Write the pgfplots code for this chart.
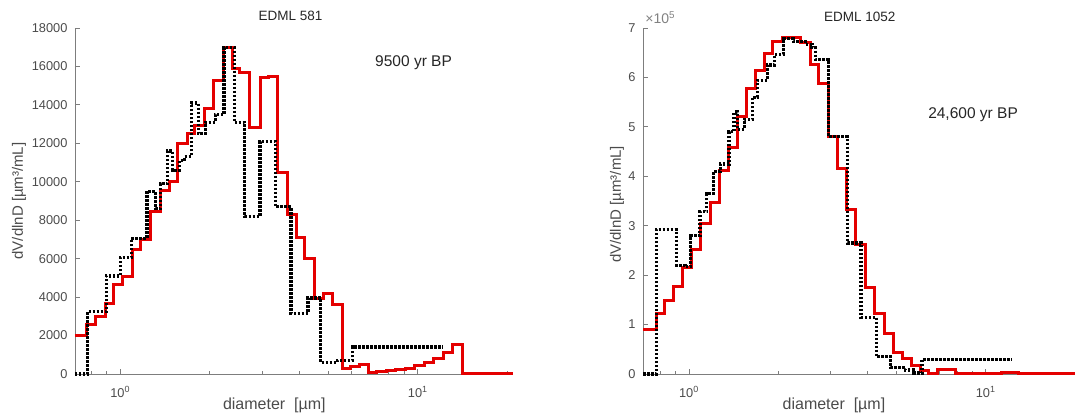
\documentclass[border=0pt]{standalone}
\usepackage{pgfplots}
\pgfplotsset{compat=1.18}
\usepackage{fontspec}
\setmainfont{Liberation Sans}
\definecolor{axgray}{RGB}{125,125,125}
\definecolor{lblgray}{RGB}{75,75,75}
\definecolor{mred}{RGB}{228,0,0}
\pgfkeys{/pgf/number format/.cd, assume math mode=true, set thousands separator={}}
\begin{document}
\begin{tikzpicture}
\useasboundingbox (0pt,0pt) rectangle (1075pt,417pt);
% ---------------- left panel ----------------
\begin{axis}[at={(75pt,43pt)}, anchor=south west, width=438pt, height=346pt, scale only axis,
  xmode=log,
  axis x line*=bottom, axis y line*=left,
  axis line style={draw=axgray, line width=0.9pt},
  tick style={draw=axgray, line width=0.9pt},
  tick align=inside, major tick length=5pt, minor tick length=3pt,
  xtick={1,10}, xticklabels={10\textsuperscript{0},10\textsuperscript{1}},
  minor xtick={0.8,0.9,2,3,4,5,6,7,8,9,20},
  tick label style={font=\fontsize{12.8}{14}\selectfont, text=lblgray},
  xticklabel style={yshift=-9pt},
  yticklabel style={xshift=-4pt},
  clip=false,
  xmin=0.705, xmax=20.9, ymin=0, ymax=18000,
  ytick={0,2000,...,18000}, scaled y ticks=false,
  xlabel={diameter\ \ [µm]},
  xlabel style={at={(axis description cs:0.455,-0.090)}, anchor=center, font=\fontsize{16}{18}\selectfont, text=lblgray},
  ylabel={dV/dlnD [µm³/mL]},
  ylabel style={at={(axis description cs:-0.128,0.50)}, anchor=center, font=\fontsize{15}{17}\selectfont, text=lblgray},
]
\addplot[draw=mred, line width=3pt, const plot, mark=none] coordinates {
(0.705,2000)(0.773,2550)(0.826,3000)(0.895,3650)(0.948,4650)(1.016,5050)(1.100,6500)
(1.172,7000)(1.263,8450)(1.367,9550)(1.461,10000)(1.561,12000)(1.682,12500)(1.783,12950)
(1.920,13800)(2.063,15250)(2.216,17000)(2.387,15900)(2.518,15700)(2.726,12800)(2.951,15400)
(3.154,15500)(3.370,10500)(3.649,8300)(3.899,7100)(4.168,6000)(4.487,3950)(4.823,4200)
(5.179,3600)(5.60,300)(5.963,400)(6.370,500)(6.807,100)(7.273,150)(7.877,200)(8.416,250)
(9.114,300)(9.739,450)(10.55,600)(11.27,800)(12.20,1100)(13.04,1550)(14.15,0)(20.9,0)
};
\addplot[draw=black, line width=3.2pt, const plot, mark=none, dash pattern=on 2.5pt off 1.5pt] coordinates {
(0.705,0)(0.779,3250)(0.899,5100)(1.0,6050)(1.091,7050)(1.230,9500)(1.314,8600)(1.367,9900)
(1.442,11600)(1.501,10600)(1.582,11100)(1.646,11300)(1.736,14100)(1.831,12500)(1.931,13100)
(2.090,13500)(2.234,17000)(2.419,13100)(2.620,8200)(2.951,12100)(3.325,8700)(3.748,3150)
(4.279,3950)(4.720,600)(5.362,700)(6.042,1400)(12.20,1400)
};
\node[font=\fontsize{15.5}{18}\selectfont, text=black!85] at (rel axis cs:0.773,0.899) {9500 yr BP};
\node[font=\fontsize{13.5}{15}\selectfont, text=black!85] at (rel axis cs:0.492,1.035) {EDML 581};
\end{axis}
% ---------------- right panel ----------------
\begin{axis}[at={(643pt,43pt)}, anchor=south west, width=432pt, height=346pt, scale only axis,
  xmode=log,
  axis x line*=bottom, axis y line*=left,
  axis line style={draw=axgray, line width=0.9pt},
  tick style={draw=axgray, line width=0.9pt},
  tick align=inside, major tick length=5pt, minor tick length=3pt,
  xtick={1,10}, xticklabels={10\textsuperscript{0},10\textsuperscript{1}},
  minor xtick={0.8,0.9,2,3,4,5,6,7,8,9,20},
  tick label style={font=\fontsize{12.8}{14}\selectfont, text=lblgray},
  xticklabel style={yshift=-9pt},
  yticklabel style={xshift=-4pt},
  clip=false,
  xmin=0.70, xmax=20, ymin=0, ymax=700000,
  ytick={0,100000,...,700000},
  yticklabels={0,1,2,3,4,5,6,7},
  scaled y ticks=false,
  xlabel={diameter\ \ [µm]},
  xlabel style={at={(axis description cs:0.442,-0.092)}, anchor=center, font=\fontsize{16}{18}\selectfont, text=lblgray},
  ylabel={dV/dlnD [µm³/mL]},
  ylabel style={at={(axis description cs:-0.060,0.49)}, anchor=center, font=\fontsize{15}{17}\selectfont, text=lblgray},
]
\addplot[draw=mred, line width=3pt, const plot, mark=none] coordinates {
(0.70,90000)(0.775,123000)(0.828,148000)(0.884,177000)(0.951,215000)(1.021,252000)(1.096,304000)
(1.180,347000)(1.267,412000)(1.364,458000)(1.456,520000)(1.564,578000)(1.670,615000)(1.797,648000)
(1.919,672000)(2.060,680000)(2.368,670000)(2.563,626000)(2.737,588000)(2.946,480000)(3.162,415000)
(3.404,333000)(3.655,262000)(3.933,176000)(4.223,123000)(4.546,82000)(4.880,43000)(5.253,31000)
(5.610,18000)(6.022,7000)(6.431,0)(6.902,9000)(7.935,0)(9.665,2000)(10.457,0)(11.318,3000)
(12.904,0)(20,0)
};
\addplot[draw=black, line width=3.2pt, const plot, mark=none, dash pattern=on 2.5pt off 1.5pt] coordinates {
(0.70,0)(0.775,292000)(0.909,220000)(0.969,217000)(1.012,280000)(1.090,328000)(1.149,365000)
(1.211,410000)(1.277,425000)(1.364,490000)(1.418,530000)(1.456,495000)(1.535,515000)(1.639,560000)
(1.705,594000)(1.835,625000)(1.945,646000)(2.077,678000)(2.247,672000)(2.464,667000)(2.597,660000)
(2.666,636000)(2.961,480000)(3.422,265000)(3.802,115000)(4.279,35000)(4.790,13000)(5.350,8000)
(5.713,2000)(6.101,30000)(12.244,30000)
};
\node[font=\fontsize{15.5}{18}\selectfont, text=black!85] at (rel axis cs:0.764,0.749) {24,600 yr BP};
\node[font=\fontsize{13.5}{15}\selectfont, text=black!85] at (rel axis cs:0.502,1.032) {EDML 1052};
\node[anchor=south west, inner sep=0pt, font=\fontsize{14}{16}\selectfont, text=lblgray!70] at (rel axis cs:0.005,1.012) {×10\textsuperscript{5}};
\end{axis}
\end{tikzpicture}
\end{document}
